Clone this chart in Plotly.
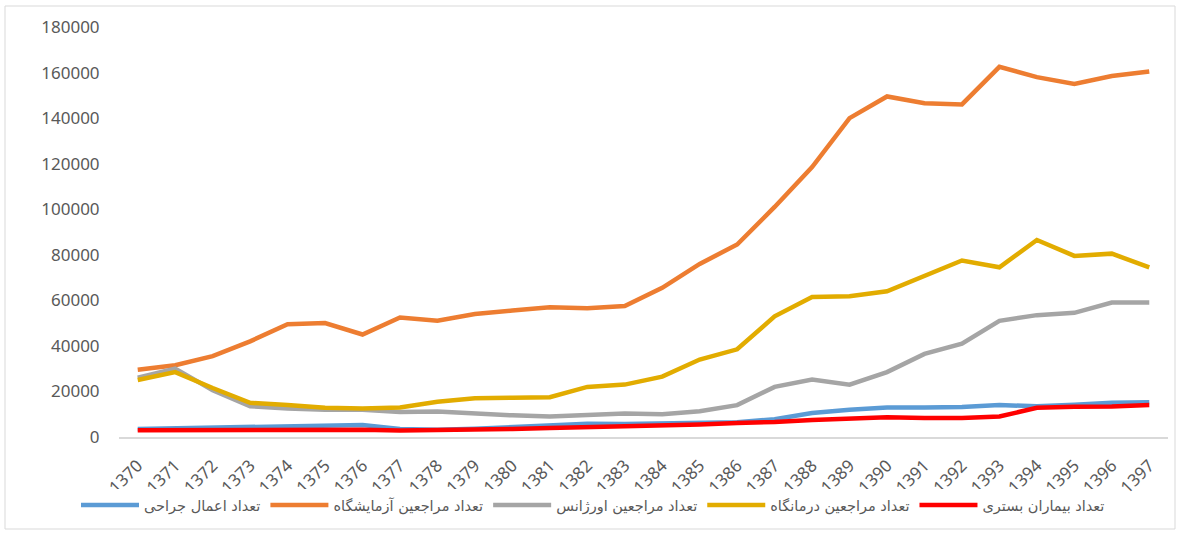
import plotly.graph_objects as go

years = [str(y) for y in range(1370, 1398)]

surgery = [3500, 3800, 4000, 4500, 4700, 5000, 5300, 3500, 3200, 3600, 4200, 4800, 5800, 5700,
           5900, 6200, 6500, 7800, 10500, 12000, 13000, 13000, 13200, 14000, 13500, 14200, 15000, 15300]
lab = [29500, 31500, 35500, 42000, 49500, 50000, 45000, 52500, 51000, 54000, 55500, 57000, 56500, 57500,
       65500, 76000, 84500, 101000, 118500, 140000, 149500, 146500, 146000, 162500, 158000, 155000, 158500, 160500]
emergency = [26000, 30000, 20500, 13500, 12500, 12000, 12000, 11000, 11200, 10200, 9500, 9000, 9800, 10300,
             10000, 11300, 14000, 22000, 25200, 23000, 28500, 36500, 41000, 51000, 53500, 54500, 59000, 59000]
clinic = [25000, 28500, 21500, 15000, 14000, 12800, 12500, 13000, 15500, 17000, 17200, 17500, 22000, 23000,
          26500, 34000, 38500, 53000, 61500, 61800, 64000, 71000, 77500, 74500, 86500, 79500, 80500, 74500]
inpatient = [3000, 3000, 3000, 3200, 3200, 3300, 3200, 2800, 2900, 3200, 3500, 3900, 4300, 4500,
             4700, 5500, 6200, 6600, 7500, 8300, 8700, 8300, 8300, 9000, 12800, 13300, 13400, 14000]

series_names = ["تعداد اعمال جراحی", "تعداد مراجعین آزمایشگاه", "تعداد مراجعین اورژانس",
                "تعداد مراجعین درمانگاه", "تعداد بیماران بستری"]
series_values = [surgery, lab, emergency, clinic, inpatient]
colors = ["#5B9BD5", "#ED7D31", "#A5A5A5", "#E2AC00", "#FF0000"]

fig = go.Figure()
for name, vals, col in zip(series_names, series_values, colors):
    fig.add_trace(go.Scatter(x=years, y=vals, name=name, mode="lines",
                             line=dict(color=col, width=4.5)))

W, H = 1180, 534
L, R, T, B = 119, 12, 27, 97
pw, ph = W - L - R, H - T - B

def px_x(p):
    return (p - L) / pw

def px_y(p):
    return (H - B - p) / ph

fig.update_layout(
    width=W, height=H,
    margin=dict(l=L, r=R, t=T, b=B, autoexpand=False),
    paper_bgcolor="white", plot_bgcolor="white",
    font=dict(family="Noto Sans, DejaVu Sans", size=17, color="#595959"),
    showlegend=True,
    legend=dict(orientation="h", x=px_x(76), xanchor="left", y=px_y(505), yanchor="middle",
                font=dict(family="DejaVu Sans", size=14.5, color="#595959"),
                itemwidth=58, tracegroupgap=0, borderwidth=0),
    xaxis=dict(type="category", range=[-0.5, 27.5], tickangle=-45, showgrid=False,
               showline=True, linecolor="#D9D9D9", linewidth=2,
               ticks="outside", ticklen=10, tickcolor="rgba(0,0,0,0)",
               tickfont=dict(size=17, color="#595959"), automargin=False),
    yaxis=dict(range=[0, 180000], dtick=20000, showgrid=False, zeroline=False, showline=False,
               ticks="outside", ticklen=15, tickcolor="rgba(0,0,0,0)", tickformat="d",
               tickfont=dict(size=17, color="#595959"), automargin=False),
    shapes=[dict(type="rect", xref="paper", yref="paper",
                 x0=px_x(5), x1=px_x(1175), y0=px_y(529), y1=px_y(6),
                 line=dict(color="#D9D9D9", width=1), fillcolor="rgba(0,0,0,0)", layer="below")],
)

fig.write_html("out.html", config={"displayModeBar": False},
               post_script="document.body.style.margin='0';")
